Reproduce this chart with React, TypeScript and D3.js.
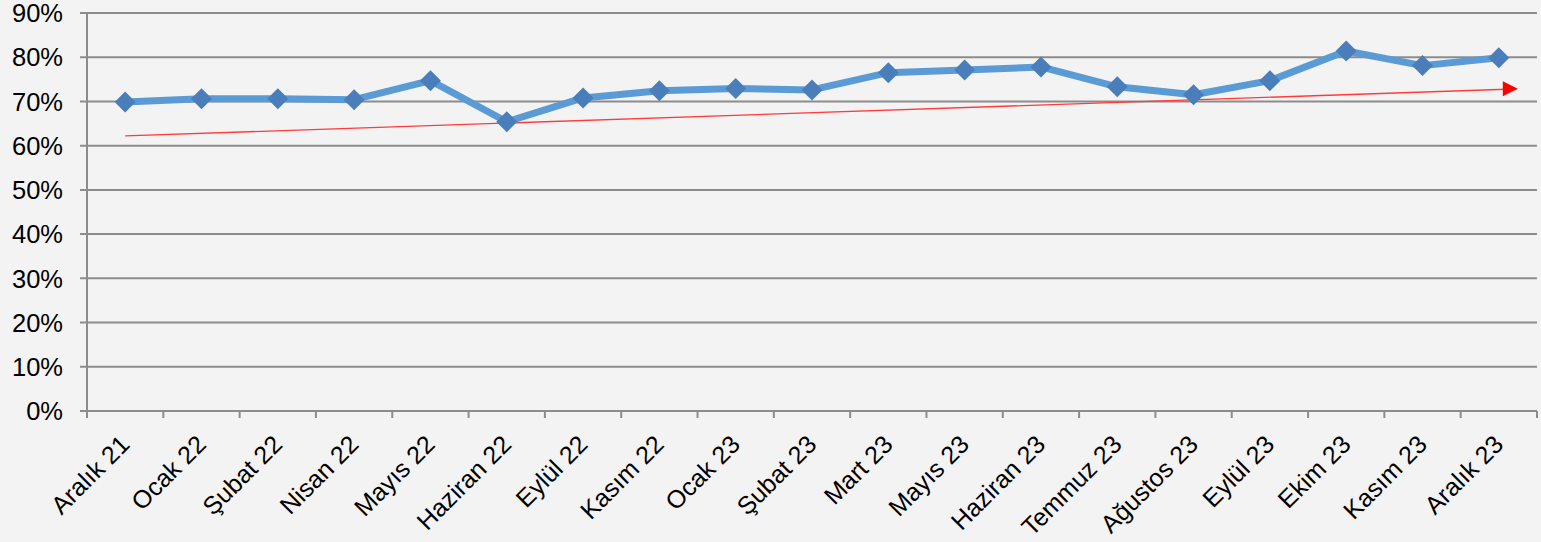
import * as d3 from "d3";
import { useEffect, useRef } from "react";

const months = [
  "Aralık 21", "Ocak 22", "Şubat 22", "Nisan 22", "Mayıs 22", "Haziran 22",
  "Eylül 22", "Kasım 22", "Ocak 23", "Şubat 23", "Mart 23", "Mayıs 23",
  "Haziran 23", "Temmuz 23", "Ağustos 23", "Eylül 23", "Ekim 23", "Kasım 23",
  "Aralık 23",
];
const rates = [
  69.9, 70.6, 70.6, 70.4, 74.7, 65.4, 70.8, 72.4, 72.9, 72.6, 76.5, 77.1,
  77.8, 73.3, 71.5, 74.7, 81.4, 78.1, 79.9,
];
// hand drawn trend arrow: value at first and last month
const trend = [62.2, 72.7];
const yTicks = [0, 10, 20, 30, 40, 50, 60, 70, 80, 90];

const W = 1541;
const H = 542;
const FONT = "'Liberation Sans', Arial, sans-serif";

export default function App() {
  const ref = useRef<SVGSVGElement>(null);

  useEffect(() => {
    const svg = d3.select(ref.current);
    svg.selectAll("*").remove();

    const left = 87, right = 1537, top = 13, bottom = 411;
    const x = d3.scaleBand().domain(months).range([left, right]);
    const y = d3.scaleLinear().domain([0, 90]).range([bottom, top]);
    const cx = (m: string) => (x(m) ?? 0) + x.bandwidth() / 2;

    svg.append("rect").attr("width", W).attr("height", H).attr("fill", "#f3f3f3");

    // gridlines + y labels
    const g = svg.append("g");
    g.selectAll("line.grid")
      .data(yTicks)
      .join("line")
      .attr("x1", left - 7)
      .attr("x2", right)
      .attr("y1", (d) => y(d))
      .attr("y2", (d) => y(d))
      .attr("stroke", "#8c8c8c")
      .attr("stroke-width", 2);
    g.selectAll("text.ylab")
      .data(yTicks)
      .join("text")
      .attr("x", 63)
      .attr("y", (d) => y(d))
      .attr("dy", "0.36em")
      .attr("text-anchor", "end")
      .attr("font-family", FONT)
      .attr("font-size", 25.5)
      .attr("fill", "#000")
      .text((d) => d + "%");

    // y axis line
    svg.append("line")
      .attr("x1", left).attr("x2", left)
      .attr("y1", top).attr("y2", bottom)
      .attr("stroke", "#8c8c8c").attr("stroke-width", 2);

    // x ticks at band edges
    const edges = months.map((m) => x(m) ?? 0).concat([right]);
    svg.selectAll("line.xt")
      .data(edges)
      .join("line")
      .attr("x1", (d) => d).attr("x2", (d) => d)
      .attr("y1", bottom).attr("y2", bottom + 7)
      .attr("stroke", "#8c8c8c").attr("stroke-width", 2);

    svg.selectAll("text.xlab")
      .data(months)
      .join("text")
      .attr("transform", (d) => `translate(${cx(d) + 6},${bottom + 35}) rotate(-45)`)
      .attr("text-anchor", "end")
      .attr("font-family", FONT)
      .attr("font-size", 25)
      .attr("fill", "#000")
      .text((d) => d);

    // trend arrow
    const x0 = cx(months[0]);
    const x1 = cx(months[months.length - 1]);
    const tip = x1 + 19;
    const slope = (y(trend[1]) - y(trend[0])) / (x1 - x0);
    const yAt = (xx: number) => y(trend[0]) + slope * (xx - x0);
    svg.append("line")
      .attr("x1", x0).attr("y1", yAt(x0))
      .attr("x2", tip - 12).attr("y2", yAt(tip - 12))
      .attr("stroke", "#ff3b3b").attr("stroke-width", 1.3);
    const ty = yAt(tip);
    svg.append("path")
      .attr("d", `M${tip},${ty} L${tip - 15},${ty - 7.5} L${tip - 15},${ty + 7.5} Z`)
      .attr("fill", "#ff0000");

    // series line
    const line = d3.line<number>()
      .x((_, i) => cx(months[i]))
      .y((d) => y(d));
    svg.append("path")
      .datum(rates)
      .attr("d", line)
      .attr("fill", "none")
      .attr("stroke", "#5b9bd5")
      .attr("stroke-width", 7)
      .attr("stroke-linejoin", "round");

    svg.selectAll("path.mk")
      .data(rates)
      .join("path")
      .attr("d", (d, i) => {
        const px = cx(months[i]);
        const py = y(d);
        return `M${px},${py - 10.5} L${px + 10.5},${py} L${px},${py + 10.5} L${px - 10.5},${py} Z`;
      })
      .attr("fill", "#4a7ebb");
  }, []);

  return (
    <svg
      ref={ref}
      width={W}
      height={H}
      style={{ position: "absolute", left: 0, top: 0, display: "block" }}
    />
  );
}
